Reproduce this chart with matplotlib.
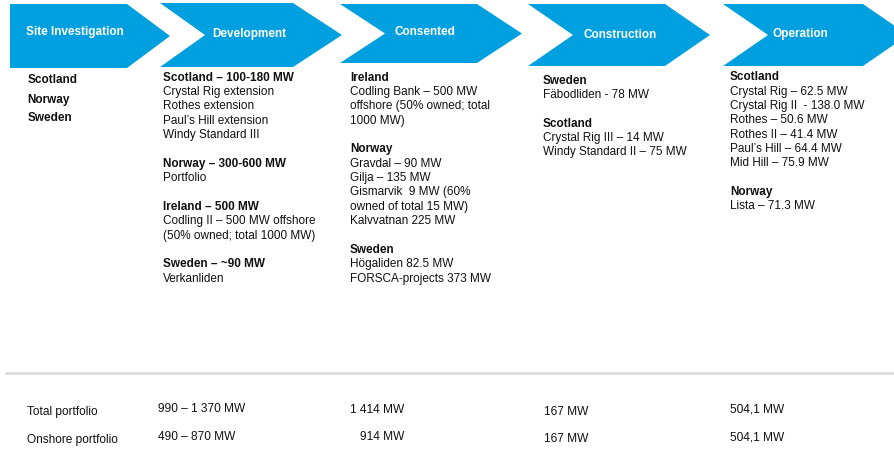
import matplotlib
matplotlib.use("Agg")
import matplotlib.pyplot as plt
from matplotlib.patches import Polygon

plt.rcParams['font.family'] = ['Liberation Sans', 'DejaVu Sans']

# ---- data ----
stages = ["Site Investigation", "Development", "Consented", "Construction", "Operation"]
stage_label_x = [75, 249, 425, 620, 800]
stage_label_y = [32, 34, 32, 35, 34]

# chevron geometry: left, top-right corner, tip, top, bottom
chev_left = [10, 160, 340, 528, 723]
chev_corner = [127, 293, 477, 665, 863]
chev_tip = [170, 342, 522, 710, 908]
chev_top = [4, 3, 4, 4, 4]
chev_bot = [68, 67, 63, 66, 66]
notch = 45

site_countries = ["Scotland", "Norway", "Sweden"]
site_y = [80, 100, 118.3]

# each column: list of (text, bold); None = blank line
development = [("Scotland – 100-180 MW", True), ("Crystal Rig extension", False),
               ("Rothes extension", False), ("Paul’s Hill extension", False),
               ("Windy Standard III", False), None,
               ("Norway – 300-600 MW", True), ("Portfolio", False), None,
               ("Ireland – 500 MW", True), ("Codling II – 500 MW offshore", False),
               ("(50% owned; total 1000 MW)", False), None,
               ("Sweden – ~90 MW", True), ("Verkanliden", False)]
consented = [("Ireland", True), ("Codling Bank – 500 MW", False),
             ("offshore (50% owned; total", False), ("1000 MW)", False), None,
             ("Norway", True), ("Gravdal – 90 MW", False), ("Gilja – 135 MW", False),
             ("Gismarvik  9 MW (60%", False), ("owned of total 15 MW)", False),
             ("Kalvvatnan 225 MW", False), None,
             ("Sweden", True), ("Högaliden 82.5 MW", False),
             ("FORSCA-projects 373 MW", False)]
construction = [("Sweden", True), ("Fäbodliden - 78 MW", False), None,
                ("Scotland", True), ("Crystal Rig III – 14 MW", False),
                ("Windy Standard II – 75 MW", False)]
operation = [("Scotland", True), ("Crystal Rig – 62.5 MW", False),
             ("Crystal Rig II  - 138.0 MW", False), ("Rothes – 50.6 MW", False),
             ("Rothes II – 41.4 MW", False), ("Paul’s Hill – 64.4 MW", False),
             ("Mid Hill – 75.9 MW", False), None,
             ("Norway", True), ("Lista – 71.3 MW", False)]
columns = [development, consented, construction, operation]
col_x = [162.7, 350, 542.7, 730]
col_y0 = [77.7, 77.7, 80.7, 77.3]
line_h = 14.35

row_labels = ["Total portfolio", "Onshore portfolio"]
row_label_y = [412, 440]
total_portfolio = ["990 – 1 370 MW", "1 414 MW", "167 MW", "504,1 MW"]
onshore_portfolio = ["490 – 870 MW", "914 MW", "167 MW", "504,1 MW"]
total_x = [158, 350, 544, 730]
total_y = [409, 410, 412.3, 410]
onshore_x = [158, 360, 544, 730]
onshore_y = [436.7, 437, 439.3, 437]

# ---- figure ----
fig = plt.figure(figsize=(8.94, 4.5), dpi=100)
ax = fig.add_axes([0, 0, 1, 1])
ax.set_xlim(0, 894)
ax.set_ylim(450, 0)
ax.axis('off')

blue = '#009fdf'
txt_col = '#111111'
fs = 8.5
fs_bottom = 8.6

for i, name in enumerate(stages):
    l, c, t = chev_left[i], chev_corner[i], chev_tip[i]
    y0, y1 = chev_top[i], chev_bot[i]
    ym = (y0 + y1) / 2
    if i == 0:
        pts = [(l, y0), (c, y0), (t, ym), (c, y1), (l, y1)]
    else:
        pts = [(l, y0), (c, y0), (t, ym), (c, y1), (l, y1), (l + notch, ym)]
    ax.add_patch(Polygon(pts, closed=True, facecolor=blue, edgecolor='none'))
    ax.text(stage_label_x[i], stage_label_y[i], name, color='white',
            fontsize=fs, fontweight='bold', ha='center', va='center')

for cname, y in zip(site_countries, site_y):
    ax.text(27.7, y, cname, fontsize=fs, fontweight='bold',
            ha='left', va='center', color=txt_col)

for col, x, y0 in zip(columns, col_x, col_y0):
    for k, item in enumerate(col):
        if item is None:
            continue
        txt, bold = item
        ax.text(x, y0 + k * line_h, txt, fontsize=fs,
                fontweight='bold' if bold else 'normal',
                ha='left', va='center', color=txt_col)

ax.plot([5, 894], [373, 373], color='#d9d9d9', lw=1.8, solid_capstyle='butt')

for lab, y in zip(row_labels, row_label_y):
    ax.text(27, y, lab, fontsize=fs_bottom, ha='left', va='center', color=txt_col)
for v, x, y in zip(total_portfolio, total_x, total_y):
    ax.text(x, y, v, fontsize=fs_bottom, ha='left', va='center', color=txt_col)
for v, x, y in zip(onshore_portfolio, onshore_x, onshore_y):
    ax.text(x, y, v, fontsize=fs_bottom, ha='left', va='center', color=txt_col)

fig.savefig('out.png', dpi=100)
